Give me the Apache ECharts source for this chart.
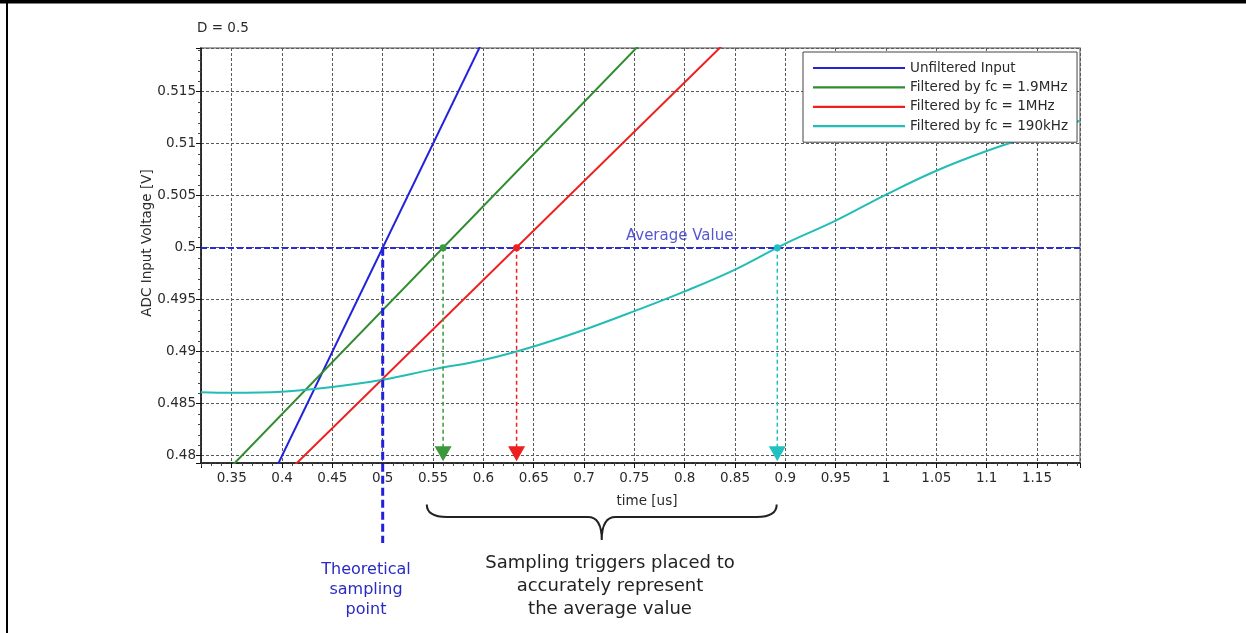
<!DOCTYPE html>
<html><head><meta charset="utf-8">
<script src="https://cdn.jsdelivr.net/npm/echarts@6/dist/echarts.min.js"></script>
<style>html,body{margin:0;padding:0;background:#fff}#c{width:1246px;height:633px}</style>
</head><body><div id="c"></div>
<script>
const FONT = 'DejaVu Sans';
const seriesNames = ['Unfiltered Input', 'Filtered by fc = 1.9MHz', 'Filtered by fc = 1MHz', 'Filtered by fc = 190kHz'];
const seriesColors = ['#2222dd', '#2f8c2f', '#ee1f1f', '#22bdb5'];

// time [us] / voltage [V]
const unfilteredT = [0.38, 0.62];
const unfilteredV = [0.476, 0.524];
const filt19T = [0.33, 0.78];
const filt19V = [0.477, 0.522];
const filt1T = [0.40, 0.86];
const filt1V = [0.4779, 0.5216];
const filt190T = [0.3195, 0.35, 0.40, 0.45, 0.50, 0.55, 0.60, 0.65, 0.70, 0.75, 0.80, 0.85, 0.90, 0.95, 1.00, 1.05, 1.10, 1.15, 1.1927];
const filt190V = [0.4861, 0.48605, 0.48615, 0.4866, 0.4873, 0.4883, 0.4892, 0.4905, 0.4921, 0.4939, 0.4958, 0.4979, 0.5004, 0.5026, 0.5051, 0.5074, 0.5093, 0.5109, 0.5122];

const averageValue = 0.5;
const averageLabelT = 0.795;
const theoreticalT = 0.5;
const theoreticalBottomV = 0.4716;
const triggerT = [0.56, 0.633, 0.892];
const triggerColors = ['#3a993a', '#ee1f1f', '#22c0c0'];
const arrowV = 0.4802;
const braceT = [0.5438, 0.8914];
const braceV = [0.4753, 0.4741, 0.4719];

const xRange = [0.3195, 1.1927];
const yRange = [0.4793, 0.5192];

const zip = (a, b) => a.map((v, i) => [v, b[i]]);
const fmt = v => String(+v.toFixed(3));

const lineData = [zip(unfilteredT, unfilteredV), zip(filt19T, filt19V), zip(filt1T, filt1V), zip(filt190T, filt190V)];

const series = lineData.map((d, i) => ({
  name: seriesNames[i], type: 'line', data: d, symbol: 'none', showSymbol: false,
  smooth: i === 3 ? 0.4 : false, clip: true, z: 3,
  lineStyle: { color: seriesColors[i], width: 2 }, itemStyle: { color: seriesColors[i] }
}));
series[0].markLine = {
  silent: true, symbol: 'none', animation: false,
  data: [{ yAxis: averageValue }],
  lineStyle: { color: '#2a2ad8', type: [6, 3], width: 2 }, label: { show: false }
};

// Theoretical sampling point (extends below the plot)
series.push({
  type: 'line', data: [[theoreticalT, averageValue], [theoreticalT, theoreticalBottomV]],
  symbol: 'none', clip: false, z: 6,
  lineStyle: { color: '#2020dd', width: 3, type: [8, 4] }
});
// drop lines
triggerT.forEach((t, i) => series.push({
  type: 'line', data: [[t, averageValue], [t, arrowV]], symbol: 'none', z: 4,
  lineStyle: { color: triggerColors[i], width: 1.5, type: [4, 3] }
}));
// dots
series.push({
  type: 'scatter', symbol: 'circle', symbolSize: 7, z: 5,
  data: triggerT.map((t, i) => ({ value: [t, averageValue], itemStyle: { color: triggerColors[i], opacity: 1 } }))
});
// arrows
series.push({
  type: 'scatter', symbol: 'triangle', symbolRotate: 180, symbolSize: [17, 15], z: 5,
  data: triggerT.map((t, i) => ({ value: [t, arrowV], itemStyle: { color: triggerColors[i], opacity: 1 } }))
});
// Average value label
series.push({
  type: 'scatter', symbolSize: 1, z: 5, itemStyle: { color: 'rgba(0,0,0,0)' },
  data: [[averageLabelT, averageValue]],
  label: { show: true, position: 'top', distance: 4, formatter: 'Average Value',
    color: '#2c2cc4', fontFamily: FONT, fontSize: 15 }
});
// brace
series.push({
  type: 'custom', clip: false, z: 5, silent: true,
  data: [[braceT[0], braceV[0]]],
  renderItem: function (params, api) {
    const pl = api.coord([braceT[0], braceV[0]]);
    const pr = api.coord([braceT[1], braceV[0]]);
    const ym = api.coord([braceT[0], braceV[1]])[1];
    const yb = api.coord([braceT[0], braceV[2]])[1];
    const xl = pl[0], xr = pr[0], yt = pl[1], xc = (xl + xr) / 2;
    const r = 20, c = 14;
    const d = `M${xl},${yt} Q${xl},${ym} ${xl + r},${ym} L${xc - c},${ym} Q${xc},${ym} ${xc},${yb} ` +
      `Q${xc},${ym} ${xc + c},${ym} L${xr - r},${ym} Q${xr},${ym} ${xr},${yt}`;
    return { type: 'path', shape: { pathData: d }, style: { stroke: '#222', fill: null, lineWidth: 2 } };
  }
});

const axisCommon = {
  type: 'value',
  axisLine: { show: true, onZero: false, lineStyle: { color: '#111', width: 1.5 } },
  axisTick: { show: true, length: 5, lineStyle: { color: '#111' } },
  minorTick: { show: true, splitNumber: 5, length: 3, lineStyle: { color: '#444' } },
  splitLine: { show: true, lineStyle: { color: '#5a5a5a', width: 1, type: [3, 2] } },
  minorSplitLine: { show: false },
  axisLabel: { showMinLabel: false, showMaxLabel: false, fontFamily: FONT, fontSize: 13.5, color: '#2a2a2a', formatter: fmt }
};

const legendIcon = 'path://M0,0 L92,0 L92,2.2 L0,2.2 Z';

const option = {
  animation: false,
  backgroundColor: '#fff',
  textStyle: { fontFamily: FONT },
  grid: { left: 201, top: 48, right: 166, bottom: 170, show: true, borderColor: '#888', borderWidth: 1.5 },
  xAxis: Object.assign({}, axisCommon, {
    min: xRange[0], max: xRange[1], splitNumber: 17,
    axisLabel: Object.assign({}, axisCommon.axisLabel, { margin: 8 }),
    name: 'time [us]', nameLocation: 'middle', nameGap: 31,
    nameTextStyle: { fontFamily: FONT, fontSize: 13.5, color: '#2a2a2a', padding: [0, 0, 0, 13] }
  }),
  yAxis: Object.assign({}, axisCommon, {
    min: yRange[0], max: yRange[1], splitNumber: 8,
    axisLabel: Object.assign({}, axisCommon.axisLabel, { margin: 5 })
  }),
  legend: {
    data: seriesNames.map(n => ({ name: n, icon: legendIcon })),
    orient: 'vertical', left: 803, top: 52,
    padding: [9, 9, 9, 10], itemWidth: 92, itemHeight: 14, itemGap: 5.4,
    backgroundColor: '#fff', borderColor: '#444', borderWidth: 1, borderRadius: 0,
    textStyle: { fontFamily: FONT, fontSize: 13.5, color: '#2a2a2a' }, z: 10
  },
  graphic: [
    { type: 'line', shape: { x1: 0, y1: 1.75, x2: 1246, y2: 1.75 }, style: { stroke: '#000', lineWidth: 3.5 } },
    { type: 'line', shape: { x1: 7, y1: 0, x2: 7, y2: 633 }, style: { stroke: '#000', lineWidth: 2 } },
    { type: 'text', x: 197, y: 28, style: { text: 'D = 0.5', fontFamily: FONT, fontSize: 13.5, fill: '#2a2a2a', verticalAlign: 'middle' } },
    { type: 'text', x: 147, y: 243, rotation: Math.PI / 2,
      style: { text: 'ADC Input Voltage [V]', fontFamily: FONT, fontSize: 13.5, fill: '#2a2a2a', align: 'center', verticalAlign: 'middle' } },
    { type: 'text', x: 610, y: 552,
      style: { text: 'Sampling triggers placed to\naccurately represent\nthe average value', fontFamily: FONT, fontSize: 18, lineHeight: 23, fill: '#222', align: 'center', verticalAlign: 'top' } },
    { type: 'text', x: 366, y: 560,
      style: { text: 'Theoretical\nsampling\npoint', fontFamily: FONT, fontSize: 16, lineHeight: 20, fill: '#2a2ac4', align: 'center', verticalAlign: 'top' } }
  ],
  series: series
};

const chart = echarts.init(document.getElementById('c'), null, { renderer: 'canvas' });
chart.setOption(option);
</script>
</body></html>
